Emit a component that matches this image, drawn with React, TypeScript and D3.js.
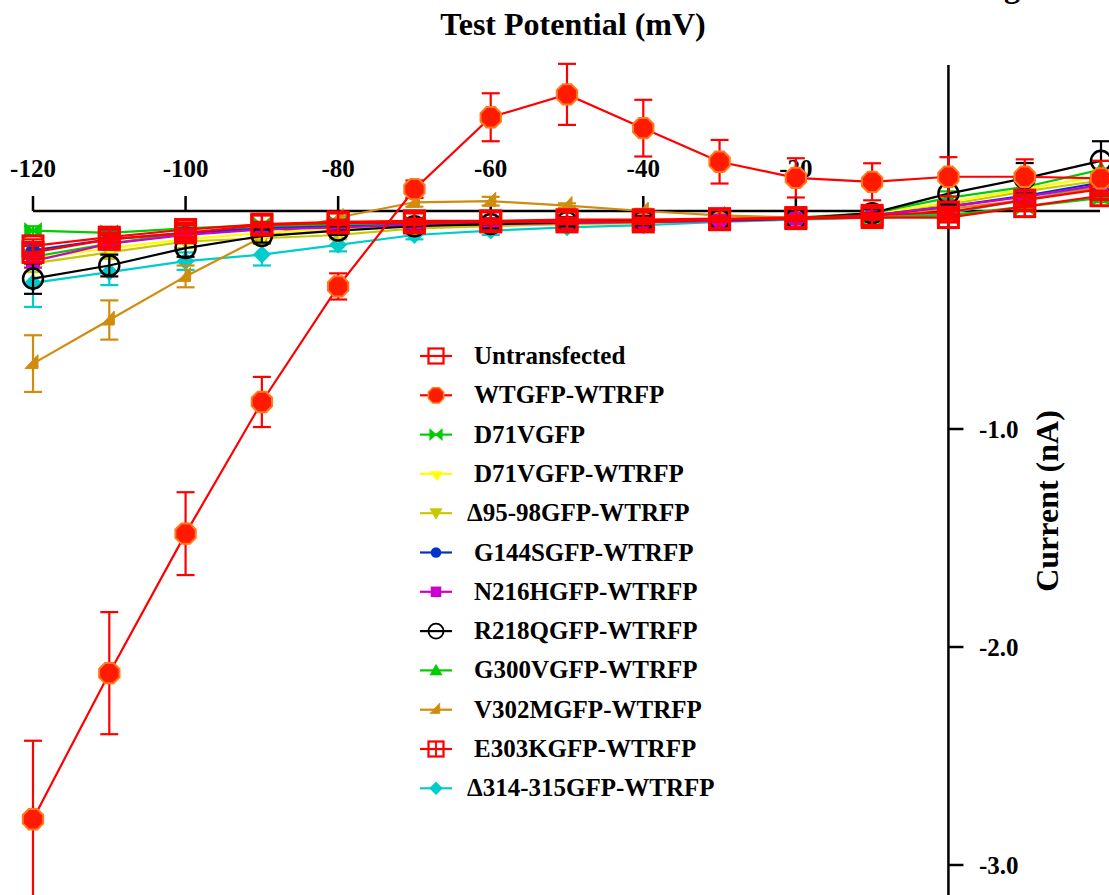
import React from "react";
import * as d3 from "d3";

const voltages = [-120, -110, -100, -90, -80, -70, -60, -50, -40, -30, -20, -10, 0, 10, 20];
const xTicks = [-120, -100, -80, -60, -40, -20];
const yTicks = [-1.0, -2.0, -3.0];

const untransfected = [-0.16, -0.12, -0.085, -0.06, -0.05, -0.045, -0.045, -0.04, -0.04, -0.035, -0.03, -0.02, -0.005, 0.05, 0.1];
const untransfectedErr = [0.03, 0.02, 0.02, 0.01, 0.01, 0.01, 0.01, 0.01, 0.01, 0.01, 0.01, 0.01, 0.01, 0.02, 0.02];
const wt = [-2.79, -2.12, -1.48, -0.876, -0.346, 0.1, 0.43, 0.535, 0.38, 0.226, 0.152, 0.134, 0.157, 0.157, 0.15];
const wtErr = [0.36, 0.28, 0.19, 0.115, 0.06, 0.04, 0.11, 0.14, 0.13, 0.1, 0.09, 0.085, 0.09, 0.08, 0.08];
const d71v = [-0.09, -0.1, -0.08, -0.065, -0.06, -0.06, -0.055, -0.05, -0.05, -0.04, -0.035, -0.03, -0.02, 0.02, 0.06];
const d71vErr = [0.02, 0.02, 0.02, 0.01, 0.01, 0.01, 0.01, 0.01, 0.01, 0.01, 0.01, 0.01, 0.01, 0.01, 0.02];
const d71vWt = [-0.22, -0.17, -0.13, -0.1, -0.085, -0.07, -0.06, -0.055, -0.05, -0.04, -0.035, -0.015, 0.04, 0.1, 0.16];
const d71vWtErr = [0.03, 0.03, 0.02, 0.02, 0.01, 0.01, 0.01, 0.01, 0.01, 0.01, 0.01, 0.01, 0.02, 0.03, 0.03];
const d9598 = [-0.24, -0.19, -0.14, -0.125, -0.11, -0.08, -0.07, -0.06, -0.055, -0.045, -0.035, -0.02, 0.03, 0.09, 0.14];
const d9598Err = [0.04, 0.03, 0.03, 0.02, 0.02, 0.01, 0.01, 0.01, 0.01, 0.01, 0.01, 0.01, 0.02, 0.03, 0.03];
const g144s = [-0.18, -0.13, -0.1, -0.08, -0.07, -0.065, -0.06, -0.055, -0.05, -0.045, -0.035, -0.02, 0.02, 0.07, 0.13];
const g144sErr = [0.03, 0.03, 0.02, 0.02, 0.02, 0.02, 0.02, 0.015, 0.01, 0.01, 0.01, 0.01, 0.02, 0.02, 0.03];
const n216h = [-0.23, -0.15, -0.11, -0.085, -0.075, -0.065, -0.06, -0.055, -0.05, -0.045, -0.035, -0.02, 0.02, 0.065, 0.12];
const n216hErr = [0.03, 0.02, 0.02, 0.02, 0.01, 0.01, 0.01, 0.01, 0.01, 0.01, 0.01, 0.01, 0.02, 0.02, 0.03];
const r218q = [-0.31, -0.25, -0.17, -0.115, -0.09, -0.07, -0.06, -0.05, -0.045, -0.04, -0.035, -0.01, 0.08, 0.15, 0.23];
const r218qErr = [0.07, 0.05, 0.04, 0.03, 0.02, 0.02, 0.02, 0.02, 0.02, 0.01, 0.01, 0.02, 0.05, 0.07, 0.09];
const g300v = [-0.21, -0.15, -0.1, -0.075, -0.065, -0.06, -0.055, -0.05, -0.045, -0.04, -0.03, -0.01, 0.06, 0.11, 0.19];
const g300vErr = [0.03, 0.02, 0.02, 0.02, 0.01, 0.01, 0.01, 0.01, 0.01, 0.01, 0.01, 0.01, 0.03, 0.04, 0.04];
const v302m = [-0.70, -0.50, -0.30, -0.12, -0.03, 0.04, 0.045, 0.025, 0.0, -0.02, -0.03, -0.02, 0.01, 0.05, 0.11];
const v302mErr = [0.13, 0.09, 0.05, 0.03, 0.02, 0.02, 0.02, 0.01, 0.01, 0.01, 0.01, 0.01, 0.02, 0.02, 0.03];
const e303k = [-0.19, -0.13, -0.1, -0.065, -0.055, -0.055, -0.05, -0.05, -0.05, -0.04, -0.035, -0.03, -0.03, 0.02, 0.07];
const e303kErr = [0.03, 0.02, 0.02, 0.01, 0.01, 0.01, 0.01, 0.01, 0.01, 0.01, 0.01, 0.01, 0.01, 0.02, 0.02];
const d314 = [-0.33, -0.28, -0.23, -0.2, -0.155, -0.11, -0.09, -0.075, -0.065, -0.05, -0.04, -0.03, -0.01, 0.05, 0.12];
const d314Err = [0.11, 0.06, 0.04, 0.05, 0.03, 0.02, 0.02, 0.02, 0.02, 0.01, 0.01, 0.01, 0.02, 0.02, 0.03];

const seriesNames = [
  "Untransfected", "WTGFP-WTRFP", "D71VGFP", "D71VGFP-WTRFP", "\u039495-98GFP-WTRFP",
  "G144SGFP-WTRFP", "N216HGFP-WTRFP", "R218QGFP-WTRFP", "G300VGFP-WTRFP",
  "V302MGFP-WTRFP", "E303KGFP-WTRFP", "\u0394314-315GFP-WTRFP",
];
const seriesColors = [
  "#ff0000", "#ff0000", "#00cc00", "#ffff00", "#c8c800",
  "#0033cc", "#cc00cc", "#000000", "#00cc00",
  "#d08c0c", "#ff0000", "#00cccc",
];
const seriesValues = [untransfected, wt, d71v, d71vWt, d9598, g144s, n216h, r218q, g300v, v302m, e303k, d314];
const seriesErrors = [untransfectedErr, wtErr, d71vErr, d71vWtErr, d9598Err, g144sErr, n216hErr, r218qErr, g300vErr, v302mErr, e303kErr, d314Err];
const markerKinds = ["squareLine", "octagon", "bowtie", "halfDown", "down", "circle", "square", "openCircle", "up", "rightTri", "squareGrid", "diamond"];
const drawOrder = [11, 9, 4, 3, 8, 2, 5, 6, 7, 10, 0, 1];

function Marker({ kind, color, x, y, s = 1 }: { kind: string; color: string; x: number; y: number; s?: number }) {
  const t = `translate(${x},${y}) scale(${s})`;
  switch (kind) {
    case "squareLine":
      return (
        <g transform={t}>
          <rect x={-10} y={-10} width={20} height={20} fill="none" stroke={color} strokeWidth={3} />
        </g>
      );
    case "squareGrid":
      return (
        <g transform={t}>
          <rect x={-10} y={-10} width={20} height={20} fill="none" stroke={color} strokeWidth={3} />
          <line x1={-10} x2={10} y1={0} y2={0} stroke={color} strokeWidth={2.5} />
          <line x1={0} x2={0} y1={-10} y2={10} stroke={color} strokeWidth={2.5} />
        </g>
      );
    case "octagon": {
      const pts = d3.range(8).map((i) => {
        const a = Math.PI / 8 + (i * Math.PI) / 4;
        return `${11 * Math.cos(a)},${11 * Math.sin(a)}`;
      }).join(" ");
      return (
        <g transform={t}>
          <polygon points={pts} fill="#ff1a00" stroke="#ff7a1a" strokeWidth={2} />
        </g>
      );
    }
    case "bowtie":
      return (
        <g transform={t}>
          <path d="M-8,-7 L8,7 L8,-7 L-8,7 Z" fill={color} stroke={color} strokeWidth={1.5} />
        </g>
      );
    case "halfDown":
      return (
        <g transform={t}>
          <path d="M-8,-3 L8,-3 L2,9 Z" fill={color} stroke={color} strokeWidth={1} />
        </g>
      );
    case "down":
      return (
        <g transform={t}>
          <path d="M-8,-6 L8,-6 L0,8 Z" fill={color} stroke={color} strokeWidth={1} />
        </g>
      );
    case "circle":
      return (
        <g transform={t}>
          <circle r={7} fill={color} />
        </g>
      );
    case "square":
      return (
        <g transform={t}>
          <rect x={-7} y={-7} width={14} height={14} fill={color} />
        </g>
      );
    case "openCircle":
      return (
        <g transform={t}>
          <circle r={10} fill="none" stroke={color} strokeWidth={2.5} />
        </g>
      );
    case "up":
      return (
        <g transform={t}>
          <path d="M-8,6 L8,6 L0,-8 Z" fill={color} stroke={color} strokeWidth={1} />
        </g>
      );
    case "rightTri":
      return (
        <g transform={t}>
          <path d="M-8,5 L5,5 L5,-9 Z" fill={color} stroke={color} strokeWidth={1} />
        </g>
      );
    case "diamond":
      return (
        <g transform={t}>
          <path d="M0,-9 L9,0 L0,9 L-9,0 Z" fill={color} />
        </g>
      );
    default:
      return null;
  }
}

export default function App() {
  const W = 1109;
  const H = 895;
  const x = d3.scaleLinear().domain([-120, 20]).range([33, 1101]);
  const y = d3.scaleLinear().domain([0, -3]).range([211, 865]);
  const axisX = x(0);
  const font = "'Liberation Serif', 'Times New Roman', serif";
  const line = d3
    .line<number>()
    .x((_, i) => x(voltages[i]))
    .y((v) => y(v));

  return (
    <svg width={W} height={H} style={{ position: "absolute", left: 0, top: 0, background: "#fff" }} fontFamily={font}>
      <rect width={W} height={H} fill="#fff" />
      {/* title */}
      <text x={573} y={35} textAnchor="middle" fontSize={32} fontWeight="bold">Test Potential (mV)</text>
      <text x={1012} y={-3} textAnchor="middle" fontSize={32} fontWeight="bold">g</text>

      {/* x axis */}
      <line x1={x(-120)} x2={1100} y1={y(0)} y2={y(0)} stroke="#000" strokeWidth={2.5} />
      {xTicks.map((t) => (
        <g key={t}>
          <line x1={x(t)} x2={x(t)} y1={y(0)} y2={y(0) - 15} stroke="#000" strokeWidth={2.5} />
          <text x={x(t)} y={177} textAnchor="middle" fontSize={25} fontWeight="bold">{t}</text>
        </g>
      ))}

      {/* y axis */}
      <line x1={axisX} x2={axisX} y1={65} y2={H} stroke="#000" strokeWidth={2.5} />
      {yTicks.map((t) => (
        <g key={t}>
          <line x1={axisX} x2={axisX + 15} y1={y(t)} y2={y(t)} stroke="#000" strokeWidth={2.5} />
          <text x={979} y={y(t) + 9} fontSize={25} fontWeight="bold">{t.toFixed(1)}</text>
        </g>
      ))}
      <text transform={`translate(1058,501) rotate(-90)`} textAnchor="middle" fontSize={32} fontWeight="bold">Current (nA)</text>

      {/* series */}
      {drawOrder.map((si) => {
        const vals = seriesValues[si];
        const errs = seriesErrors[si];
        const color = seriesColors[si];
        return (
          <g key={si}>
            <path d={line(vals) || ""} fill="none" stroke={color} strokeWidth={2.2} />
            {vals.map((v, i) => {
              const cx = x(voltages[i]);
              const e = errs[i];
              const y1 = y(v + e);
              const y2 = y(v - e);
              return (
                <g key={i}>
                  <line x1={cx} x2={cx} y1={y1} y2={y2} stroke={color} strokeWidth={2.2} />
                  <line x1={cx - 9} x2={cx + 9} y1={y1} y2={y1} stroke={color} strokeWidth={2.2} />
                  <line x1={cx - 9} x2={cx + 9} y1={y2} y2={y2} stroke={color} strokeWidth={2.2} />
                </g>
              );
            })}
            {vals.map((v, i) => (
              <Marker key={"m" + i} kind={markerKinds[si]} color={color} x={x(voltages[i])} y={y(v)} />
            ))}
          </g>
        );
      })}

      {/* legend */}
      {seriesNames.map((name, i) => {
        const ly = 356 + i * 39.3;
        const color = seriesColors[i];
        return (
          <g key={name}>
            <line x1={420} x2={452} y1={ly} y2={ly} stroke={color} strokeWidth={2.2} />
            <Marker kind={markerKinds[i]} color={color} x={436} y={ly} s={0.75} />
            <text x={i === 4 || i === 11 ? 467 : 474} y={ly + 8} fontSize={25} fontWeight="bold">{name}</text>
          </g>
        );
      })}
    </svg>
  );
}
